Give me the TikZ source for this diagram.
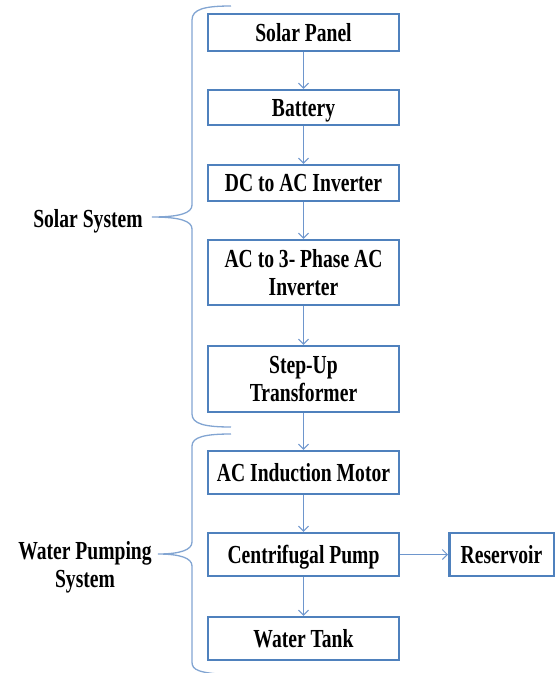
\documentclass[tikz,border=0pt]{standalone}
\usepackage{fontspec}
\usepackage{graphicx}
\setmainfont{Liberation Serif}
\usetikzlibrary{arrows.meta}
\definecolor{boxblue}{RGB}{79,129,189}
\definecolor{lineblue}{RGB}{110,150,205}
\definecolor{braceblue}{RGB}{130,165,210}
\newcommand\vst[1]{\scalebox{0.98}[1.3]{#1}}
\begin{document}
\begin{tikzpicture}[x=1pt,y=-1pt,
  blk/.style={draw=boxblue,line width=2.5pt,fill=white,minimum width=191pt,align=center,
    font=\fontsize{20}{28}\selectfont\bfseries,inner sep=0pt},
  one/.style={text depth=0pt},
  lbl/.style={align=center,font=\fontsize{20}{28}\selectfont\bfseries,inner sep=0pt},
  arr/.style={draw=lineblue,line width=1pt,-{Straight Barb[length=5pt,width=10pt]}},
  brc/.style={draw=braceblue,line width=1.3pt}]
\path[use as bounding box] (0,0) rectangle (557,673);
\node[blk,one,minimum height=37pt] (sp) at (303.5,32.5) {\vst{Solar Panel}};
\node[blk,one,minimum height=35pt] (bat) at (303.5,107.5) {\vst{Battery}};
\node[blk,one,minimum height=36pt] (dc) at (303.5,183) {\vst{DC to AC Inverter}};
\node[blk,minimum height=65pt] (ac3) at (303.5,272.5) {\vst{AC to 3- Phase AC}\\\vst{Inverter}};
\node[blk,minimum height=66pt] (stp) at (303.5,379) {\vst{Step-Up}\\\vst{Transformer}};
\node[blk,one,minimum height=43pt] (mot) at (303.5,472.5) {\vst{AC Induction Motor}};
\node[blk,one,minimum height=43pt] (pump) at (303.5,554.5) {\vst{Centrifugal Pump}};
\node[blk,one,minimum height=43pt] (tank) at (303.5,638.5) {\vst{Water Tank}};
\node[blk,one,minimum height=43pt,minimum width=104.5pt] (res) at (501.5,554.5) {\vst{Reservoir}};
\draw[arr] (sp) -- (bat);
\draw[arr] (bat) -- (dc);
\draw[arr] (dc) -- (ac3);
\draw[arr] (ac3) -- (stp);
\draw[arr] (stp) -- (mot);
\draw[arr] (mot) -- (pump);
\draw[arr] (pump) -- (tank);
\draw[arr] (pump) -- (res);
\node[lbl] (solarlbl) at (88,221) {\vst{Solar System}};
\node[lbl] (waterlbl) at (85,567) {\vst{Water Pumping}\\\vst{System}};
\draw[brc] (231,6) .. controls (205,6) and (192,9) .. (192,20) -- (192,205)
  .. controls (192,213) and (180,217) .. (152,217)
  .. controls (180,217) and (192,221) .. (192,229) -- (192,414)
  .. controls (192,424) and (205,427) .. (231,427);
\draw[brc] (231,434) .. controls (205,434) and (192,437) .. (192,446) -- (192,542)
  .. controls (192,550) and (180,554) .. (158,554)
  .. controls (180,554) and (192,558) .. (192,566) -- (192,662)
  .. controls (192,670) and (198,673) .. (231,675);
\end{tikzpicture}
\end{document}
